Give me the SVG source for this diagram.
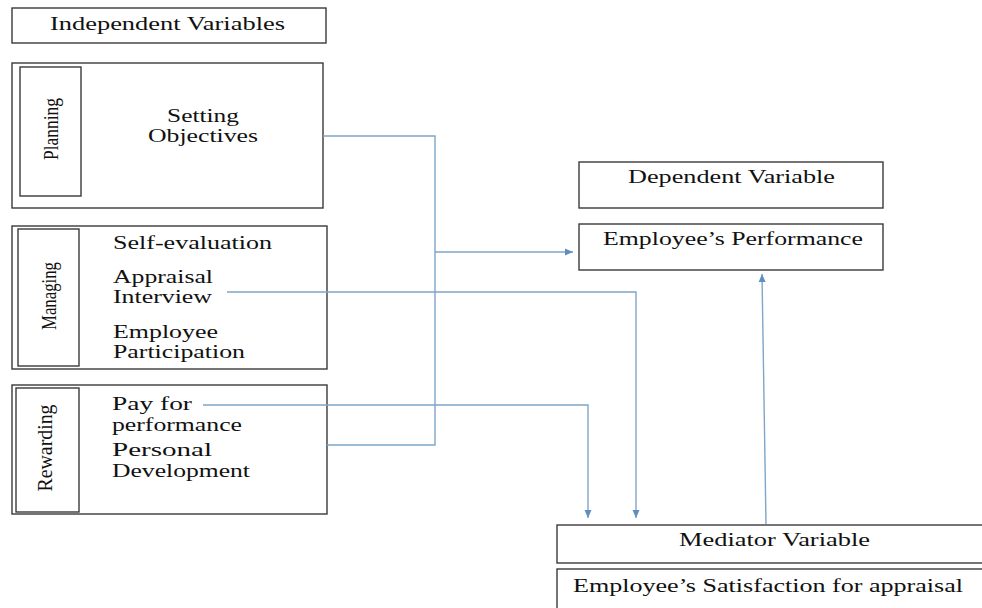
<svg xmlns="http://www.w3.org/2000/svg" width="982" height="608" viewBox="0 0 982 608">
<defs>
<style>
.box{fill:#fff;stroke:#3a3a3a;stroke-width:1.4}
.t{font-family:"Liberation Serif","Times New Roman",serif;font-size:18px;fill:#111}
.r{font-family:"Liberation Serif","Times New Roman",serif;font-size:22px;fill:#111}
.c{fill:none;stroke:#7fa5c8;stroke-width:1.4}
</style>
<marker id="ah" viewBox="0 0 8 8" refX="8" refY="4" markerWidth="8" markerHeight="8" markerUnits="userSpaceOnUse" orient="auto">
<path d="M0,0.5 L8,4 L0,7.5 z" fill="#5f8fc0"/>
</marker>
</defs>
<rect width="982" height="608" fill="#fff"/>

<g id="independent">
<rect class="box" x="12" y="8" width="314" height="35"/>
<text class="t" x="50" y="30" textLength="235" lengthAdjust="spacingAndGlyphs">Independent Variables</text>
</g>

<g id="planning">
<rect class="box" x="12" y="63" width="311" height="145"/>
<rect class="box" x="20" y="67" width="61" height="129"/>
<text class="r" text-anchor="middle" transform="translate(58,129) rotate(-90)" textLength="62" lengthAdjust="spacingAndGlyphs">Planning</text>
<text class="t" x="167" y="122" textLength="72" lengthAdjust="spacingAndGlyphs">Setting</text>
<text class="t" x="148" y="142" textLength="110" lengthAdjust="spacingAndGlyphs">Objectives</text>
</g>

<g id="managing">
<rect class="box" x="12" y="226" width="315" height="143"/>
<rect class="box" x="18" y="229" width="61" height="137"/>
<text class="r" text-anchor="middle" transform="translate(56,296) rotate(-90)" textLength="68" lengthAdjust="spacingAndGlyphs">Managing</text>
<text class="t" x="113" y="249" textLength="159" lengthAdjust="spacingAndGlyphs">Self-evaluation</text>
<text class="t" x="113" y="283" textLength="100" lengthAdjust="spacingAndGlyphs">Appraisal</text>
<text class="t" x="113" y="303" textLength="99" lengthAdjust="spacingAndGlyphs">Interview</text>
<text class="t" x="113" y="338" textLength="105" lengthAdjust="spacingAndGlyphs">Employee</text>
<text class="t" x="113" y="358" textLength="132" lengthAdjust="spacingAndGlyphs">Participation</text>
</g>

<g id="rewarding">
<rect class="box" x="12" y="385" width="315" height="129"/>
<rect class="box" x="16" y="388" width="63" height="124"/>
<text class="r" text-anchor="middle" transform="translate(52,448) rotate(-90)" textLength="87" lengthAdjust="spacingAndGlyphs">Rewarding</text>
<text class="t" x="112" y="410" textLength="80" lengthAdjust="spacingAndGlyphs">Pay for</text>
<text class="t" x="112" y="431" textLength="130" lengthAdjust="spacingAndGlyphs">performance</text>
<text class="t" x="112" y="456" textLength="100" lengthAdjust="spacingAndGlyphs">Personal</text>
<text class="t" x="112" y="477" textLength="138" lengthAdjust="spacingAndGlyphs">Development</text>
</g>

<g id="dependent">
<rect class="box" x="579" y="162" width="304" height="46"/>
<text class="t" x="628" y="183" textLength="207" lengthAdjust="spacingAndGlyphs">Dependent Variable</text>
</g>

<g id="performance">
<rect class="box" x="579" y="224" width="304" height="46"/>
<text class="t" x="603" y="245" textLength="260" lengthAdjust="spacingAndGlyphs">Employee’s Performance</text>
</g>

<g id="mediator">
<rect class="box" x="557" y="525" width="440" height="38"/>
<text class="t" x="679" y="546" textLength="191" lengthAdjust="spacingAndGlyphs">Mediator Variable</text>
</g>

<g id="satisfaction">
<rect class="box" x="557" y="569" width="440" height="50"/>
<text class="t" x="573" y="592" textLength="390" lengthAdjust="spacingAndGlyphs">Employee’s Satisfaction for appraisal</text>
</g>

<g id="connectors">
<path class="c" d="M323,136 H435 V445 H327"/>
<path class="c" d="M435,252 H573" marker-end="url(#ah)"/>
<path class="c" d="M227,292 H636 V518" marker-end="url(#ah)"/>
<path class="c" d="M203,405 H588 V518" marker-end="url(#ah)"/>
<path class="c" d="M766,524 L762,274" marker-end="url(#ah)"/>
</g>
</svg>
